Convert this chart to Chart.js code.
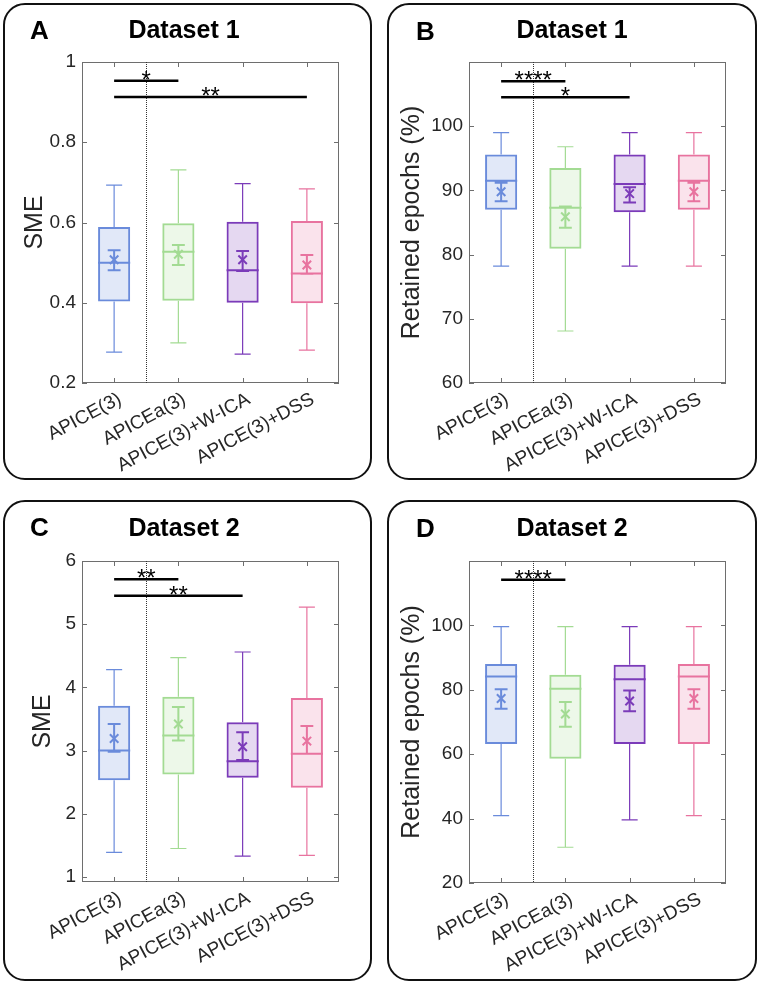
<!DOCTYPE html>
<html>
<head>
<meta charset="utf-8">
<title>APICE box plots</title>
<script src="https://cdn.jsdelivr.net/npm/chart.js@4.4.1/dist/chart.umd.min.js"></script>
<style>
  body { margin: 0; background: #fff; width: 760px; height: 984px; position: relative; overflow: hidden;
         font-family: "Liberation Sans", Arial, sans-serif; }
  .panel { position: absolute; box-sizing: border-box; border: 2px solid #111; border-radius: 22px; overflow: hidden; }
  .panel canvas { position: absolute; left: 0; top: 0; }
  .letter { position: absolute; font-size: 26px; line-height: 26px; font-weight: bold; color: #000; }
  .title { position: absolute; width: 200px; text-align: center; font-size: 25px; line-height: 25px; font-weight: bold; color: #000; }
</style>
</head>
<body>
<div class="panel" style="left:3px;top:3px;width:369px;height:477px;"><canvas id="chartA" width="365" height="473"></canvas></div>
<div class="panel" style="left:387px;top:3px;width:370px;height:477px;"><canvas id="chartB" width="366" height="473"></canvas></div>
<div class="panel" style="left:3px;top:500px;width:369px;height:481px;"><canvas id="chartC" width="365" height="477"></canvas></div>
<div class="panel" style="left:387px;top:500px;width:370px;height:481px;"><canvas id="chartD" width="366" height="477"></canvas></div>

<div class="letter" style="left:30px;top:17px;">A</div>
<div class="letter" style="left:416px;top:18px;">B</div>
<div class="letter" style="left:30px;top:514px;">C</div>
<div class="letter" style="left:416px;top:515px;">D</div>
<div class="title" style="left:84px;top:17px;">Dataset 1</div>
<div class="title" style="left:472px;top:17px;">Dataset 1</div>
<div class="title" style="left:84px;top:515px;">Dataset 2</div>
<div class="title" style="left:472px;top:515px;">Dataset 2</div>

<script>
const categories = ['APICE(3)', 'APICEa(3)', 'APICE(3)+W-ICA', 'APICE(3)+DSS'];
const edgeColors = ['#6a8bdb', '#a3db93', '#7b3bb9', '#e8739f'];
const fillColors = ['rgba(106,139,219,0.2)', 'rgba(163,219,147,0.2)', 'rgba(123,59,185,0.2)', 'rgba(232,115,159,0.2)'];

// A - SME, dataset 1
const sme1Min = [0.277, 0.300, 0.272, 0.282];
const sme1Q1 = [0.403, 0.405, 0.400, 0.399];
const sme1Median = [0.500, 0.527, 0.481, 0.473];
const sme1Q3 = [0.589, 0.598, 0.602, 0.604];
const sme1Max = [0.693, 0.731, 0.697, 0.684];
const sme1Mean = [0.507, 0.521, 0.507, 0.494];
const sme1CiLow = [0.481, 0.494, 0.479, 0.472];
const sme1CiHigh = [0.531, 0.544, 0.529, 0.519];
const sme1SigFrom = [0, 0];
const sme1SigTo = [1, 3];
const sme1SigText = ['*', '**'];
const sme1SigLevel = [0.953, 0.913];
const sme1Ticks = [0.2, 0.4, 0.6, 0.8, 1];

// B - retained epochs, dataset 1
const epo1Min = [78.2, 68.1, 78.2, 78.2];
const epo1Q1 = [87.0, 80.9, 86.6, 87.0];
const epo1Median = [91.5, 87.3, 91.0, 91.5];
const epo1Q3 = [95.6, 93.5, 95.6, 95.6];
const epo1Max = [99.0, 96.8, 99.0, 99.0];
const epo1Mean = [89.8, 85.9, 89.5, 89.8];
const epo1CiLow = [88.3, 84.2, 88.1, 88.3];
const epo1CiHigh = [91.2, 87.5, 90.5, 91.2];
const epo1SigFrom = [0, 0];
const epo1SigTo = [1, 2];
const epo1SigText = ['****', '*'];
const epo1SigLevel = [107.0, 104.5];
const epo1Ticks = [60, 70, 80, 90, 100];

// C - SME, dataset 2
const sme2Min = [1.39, 1.45, 1.33, 1.34];
const sme2Q1 = [2.53, 2.62, 2.57, 2.41];
const sme2Median = [3.00, 3.24, 2.83, 2.95];
const sme2Q3 = [3.71, 3.85, 3.45, 3.83];
const sme2Max = [4.28, 4.47, 4.56, 5.27];
const sme2Mean = [3.19, 3.42, 3.06, 3.15];
const sme2CiLow = [2.98, 3.16, 2.85, 2.95];
const sme2CiHigh = [3.42, 3.69, 3.29, 3.39];
const sme2SigFrom = [0, 0];
const sme2SigTo = [1, 2];
const sme2SigText = ['**', '**'];
const sme2SigLevel = [5.71, 5.45];
const sme2Ticks = [1, 2, 3, 4, 5, 6];

// D - retained epochs, dataset 2
const epo2Min = [40.9, 31.1, 39.6, 40.9];
const epo2Q1 = [63.2, 58.6, 63.2, 63.2];
const epo2Median = [84.1, 80.3, 83.3, 84.1];
const epo2Q3 = [88.0, 84.7, 87.8, 88.0];
const epo2Max = [99.6, 99.6, 99.6, 99.6];
const epo2Mean = [77.3, 72.5, 76.5, 77.3];
const epo2CiLow = [74.1, 68.5, 73.3, 74.1];
const epo2CiHigh = [80.2, 76.2, 79.8, 80.2];
const epo2SigFrom = [0];
const epo2SigTo = [1];
const epo2SigText = ['****'];
const epo2SigLevel = [114.2];
const epo2Ticks = [20, 40, 60, 80, 100];

const FONT = '"Liberation Sans", Arial, sans-serif';
const TEXT_COLOR = '#262626';

// whiskers, medians, mean CIs, frame and significance bars, all placed through the chart scales
function boxExtras(s) {
    return {
        id: 'boxExtras',
        beforeDatasetsDraw(chart) {
            const { ctx, chartArea: area, scales: { x, y } } = chart;
            const step = x.getPixelForValue(1) - x.getPixelForValue(0);
            ctx.save();
            // axes box with inward ticks
            ctx.strokeStyle = '#6e6e6e';
            ctx.lineWidth = 1;
            ctx.strokeRect(area.left + 0.5, area.top + 0.5, area.width - 1, area.height - 1);
            ctx.beginPath();
            y.ticks.forEach(t => {
                const py = Math.round(y.getPixelForValue(t.value)) + 0.5;
                ctx.moveTo(area.left, py); ctx.lineTo(area.left + 5, py);
                ctx.moveTo(area.right, py); ctx.lineTo(area.right - 5, py);
            });
            categories.forEach((c, i) => {
                const px = Math.round(x.getPixelForValue(i)) + 0.5;
                ctx.moveTo(px, area.top); ctx.lineTo(px, area.top + 5);
                ctx.moveTo(px, area.bottom); ctx.lineTo(px, area.bottom - 5);
            });
            ctx.stroke();

            // dotted separator after the first group
            const sepX = Math.round((x.getPixelForValue(0) + x.getPixelForValue(1)) / 2) + 0.5;
            ctx.strokeStyle = '#333';
            ctx.setLineDash([1, 1]);
            ctx.beginPath();
            ctx.moveTo(sepX, area.top); ctx.lineTo(sepX, area.bottom);
            ctx.stroke();
            ctx.setLineDash([]);

            // whiskers
            const cap = step * 0.125;
            ctx.lineWidth = 1.2;
            s.min.forEach((mn, i) => {
                const px = x.getPixelForValue(i);
                const yMax = y.getPixelForValue(s.max[i]);
                const yMin = y.getPixelForValue(mn);
                ctx.strokeStyle = edgeColors[i];
                ctx.beginPath();
                ctx.moveTo(px, y.getPixelForValue(s.q3[i])); ctx.lineTo(px, yMax);
                ctx.moveTo(px - cap, yMax); ctx.lineTo(px + cap, yMax);
                ctx.moveTo(px, y.getPixelForValue(s.q1[i])); ctx.lineTo(px, yMin);
                ctx.moveTo(px - cap, yMin); ctx.lineTo(px + cap, yMin);
                ctx.stroke();
            });
            ctx.restore();
        },
        afterDatasetsDraw(chart) {
            const { ctx, scales: { x, y } } = chart;
            const step = x.getPixelForValue(1) - x.getPixelForValue(0);
            const half = step * 0.25;
            const ciCap = step * 0.1;
            ctx.save();
            ctx.lineWidth = 2;
            s.median.forEach((md, i) => {
                const px = x.getPixelForValue(i);
                const pm = y.getPixelForValue(md);
                const lo = y.getPixelForValue(s.ciLow[i]);
                const hi = y.getPixelForValue(s.ciHigh[i]);
                ctx.strokeStyle = edgeColors[i];
                ctx.beginPath();
                ctx.moveTo(px - half, pm); ctx.lineTo(px + half, pm);
                ctx.moveTo(px, lo); ctx.lineTo(px, hi);
                ctx.moveTo(px - ciCap, lo); ctx.lineTo(px + ciCap, lo);
                ctx.moveTo(px - ciCap, hi); ctx.lineTo(px + ciCap, hi);
                ctx.stroke();
            });

            // significance bars
            ctx.strokeStyle = '#000';
            ctx.fillStyle = '#000';
            ctx.lineWidth = 2.5;
            ctx.font = '24px ' + FONT;
            ctx.textAlign = 'center';
            ctx.textBaseline = 'alphabetic';
            s.sigFrom.forEach((from, k) => {
                const x1 = x.getPixelForValue(from);
                const x2 = x.getPixelForValue(s.sigTo[k]);
                const py = y.getPixelForValue(s.sigLevel[k]);
                ctx.beginPath();
                ctx.moveTo(x1, py); ctx.lineTo(x2, py);
                ctx.stroke();
                ctx.fillText(s.sigText[k], (x1 + x2) / 2, py + 7);
            });
            ctx.restore();
        }
    };
}

function makePanel(id, s, axis) {
    new Chart(document.getElementById(id), {
        type: 'bar',
        data: {
            labels: categories,
            datasets: [{
                type: 'line',
                data: s.mean,
                showLine: false,
                pointStyle: 'crossRot',
                pointRadius: 6,
                pointBorderWidth: 2,
                pointBorderColor: edgeColors,
                pointBackgroundColor: 'rgba(0,0,0,0)',
                order: 0
            }, {
                data: s.q1.map((v, i) => [v, s.q3[i]]),
                backgroundColor: fillColors,
                borderColor: edgeColors,
                borderWidth: 2,
                borderSkipped: false,
                barPercentage: 0.5,
                categoryPercentage: 1,
                order: 1
            }]
        },
        options: {
            responsive: false,
            animation: false,
            events: [],
            layout: { padding: { top: axis.padTop, right: axis.padRight, bottom: 0, left: 0 } },
            plugins: { legend: { display: false }, tooltip: { enabled: false } },
            scales: {
                x: {
                    grid: { display: false, drawTicks: false },
                    border: { display: false },
                    ticks: {
                        autoSkip: false, minRotation: 28, maxRotation: 28, padding: 5, labelOffset: 6,
                        color: TEXT_COLOR, font: { family: FONT, size: 19 }
                    },
                    afterFit: sc => { sc.height = axis.xHeight; }
                },
                y: {
                    min: axis.min,
                    max: axis.max,
                    grid: { display: false, drawTicks: false },
                    border: { display: false },
                    afterBuildTicks: sc => { sc.ticks = axis.ticks.map(v => ({ value: v })); },
                    ticks: {
                        padding: 6, color: TEXT_COLOR, font: { family: FONT, size: 19 },
                        callback: v => String(v)
                    },
                    title: {
                        display: true, text: axis.title, color: TEXT_COLOR,
                        font: { family: FONT, size: 25 }, padding: { top: axis.titlePad, bottom: 0 }
                    },
                    afterFit: sc => { sc.width = axis.yWidth; }
                }
            }
        },
        plugins: [boxExtras(s)]
    });
}

makePanel('chartA', {
    min: sme1Min, q1: sme1Q1, median: sme1Median, q3: sme1Q3, max: sme1Max, mean: sme1Mean,
    ciLow: sme1CiLow, ciHigh: sme1CiHigh, sigFrom: sme1SigFrom, sigTo: sme1SigTo, sigText: sme1SigText, sigLevel: sme1SigLevel
}, { min: 0.2, max: 1, ticks: sme1Ticks, title: 'SME', titlePad: 15, yWidth: 77, padTop: 57, padRight: 31, xHeight: 95 });

makePanel('chartB', {
    min: epo1Min, q1: epo1Q1, median: epo1Median, q3: epo1Q3, max: epo1Max, mean: epo1Mean,
    ciLow: epo1CiLow, ciHigh: epo1CiHigh, sigFrom: epo1SigFrom, sigTo: epo1SigTo, sigText: epo1SigText, sigLevel: epo1SigLevel
}, { min: 60, max: 110, ticks: epo1Ticks, title: 'Retained epochs (%)', titlePad: 8, yWidth: 80, padTop: 57, padRight: 29, xHeight: 95 });

makePanel('chartC', {
    min: sme2Min, q1: sme2Q1, median: sme2Median, q3: sme2Q3, max: sme2Max, mean: sme2Mean,
    ciLow: sme2CiLow, ciHigh: sme2CiHigh, sigFrom: sme2SigFrom, sigTo: sme2SigTo, sigText: sme2SigText, sigLevel: sme2SigLevel
}, { min: 0.92, max: 6, ticks: sme2Ticks, title: 'SME', titlePad: 23, yWidth: 77, padTop: 59, padRight: 31, xHeight: 97 });

makePanel('chartD', {
    min: epo2Min, q1: epo2Q1, median: epo2Median, q3: epo2Q3, max: epo2Max, mean: epo2Mean,
    ciLow: epo2CiLow, ciHigh: epo2CiHigh, sigFrom: epo2SigFrom, sigTo: epo2SigTo, sigText: epo2SigText, sigLevel: epo2SigLevel
}, { min: 20, max: 120, ticks: epo2Ticks, title: 'Retained epochs (%)', titlePad: 8, yWidth: 80, padTop: 59, padRight: 29, xHeight: 96 });
</script>
</body>
</html>
